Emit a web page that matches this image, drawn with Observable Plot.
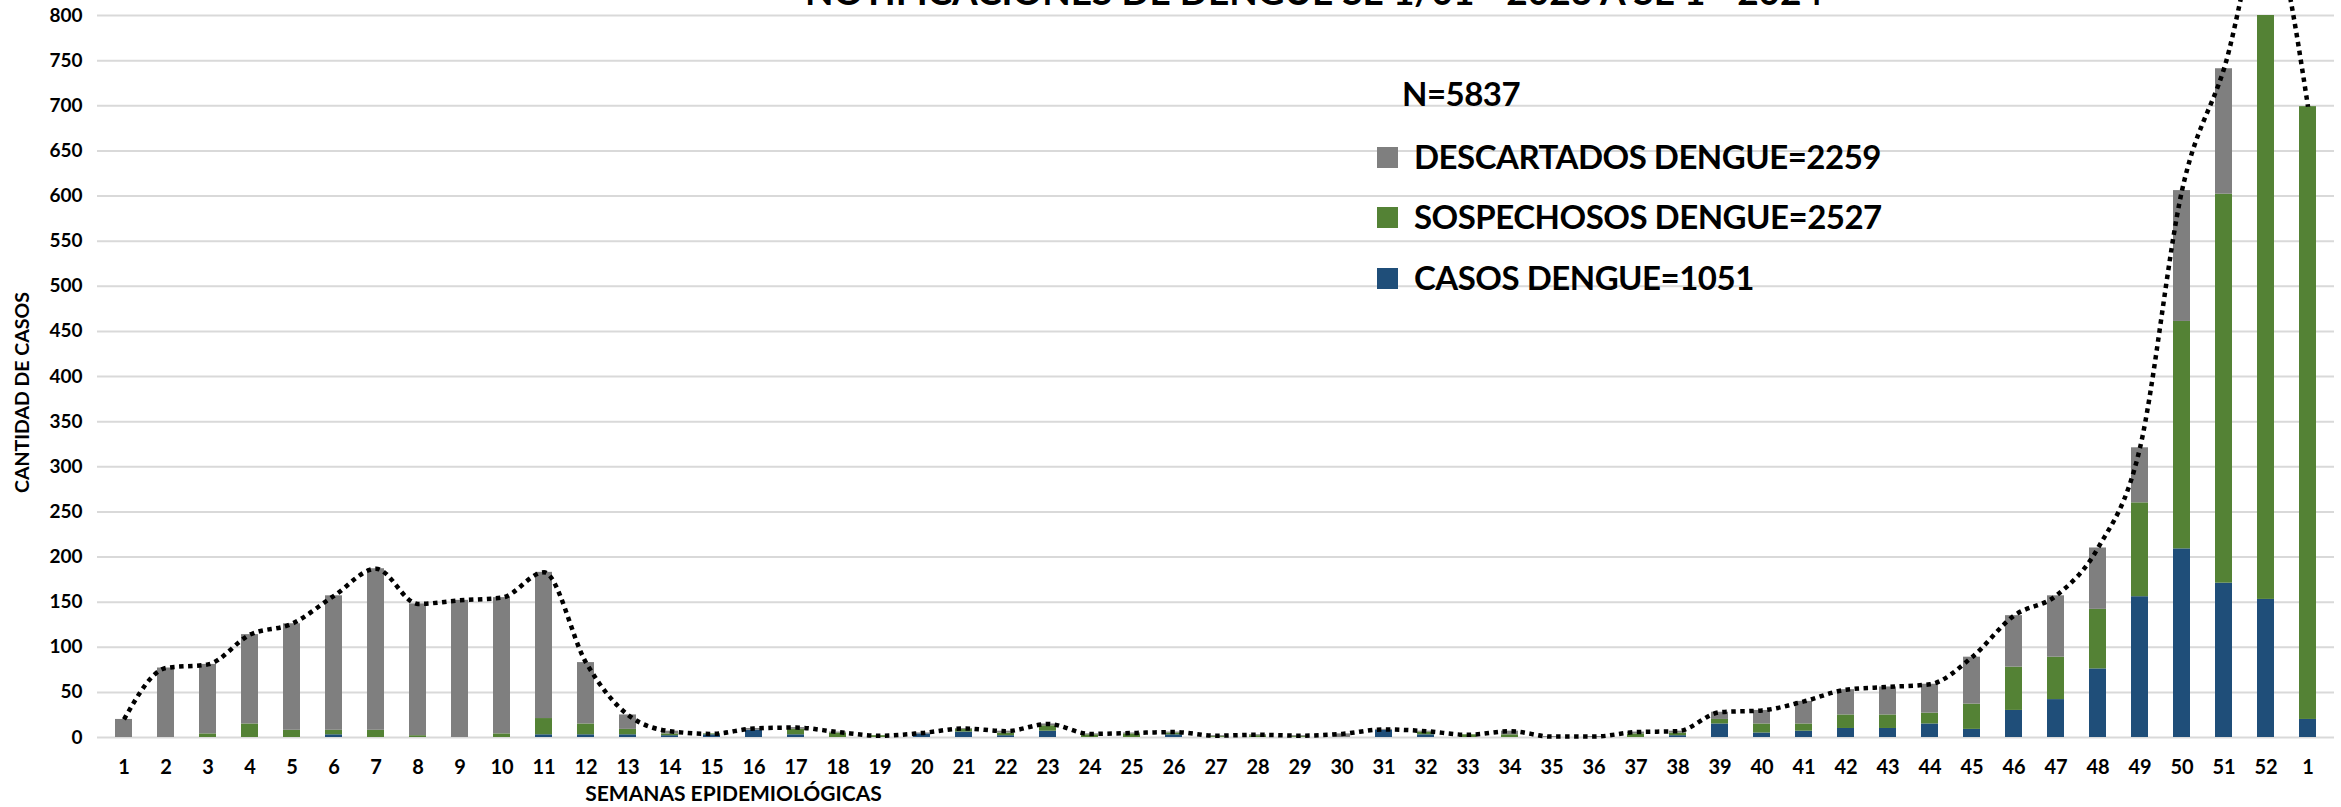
<!DOCTYPE html>
<html><head><meta charset="utf-8">
<script src="https://cdn.jsdelivr.net/npm/d3@7"></script>
<script src="https://cdn.jsdelivr.net/npm/@observablehq/plot@0.6"></script>
<style>
html,body{margin:0;padding:0;background:#fff;}
#wrap{position:relative;width:2341px;height:807px;overflow:hidden;background:#fff;}
.leg{position:absolute;font-family:Lato,"Open Sans",sans-serif;font-weight:700;font-size:33px;letter-spacing:-0.5px;color:#000;white-space:nowrap;line-height:1;}
.sw{position:absolute;width:21px;height:21px;}
</style></head><body><div id="wrap"></div>
<script>
const semanas = ["1","2","3","4","5","6","7","8","9","10","11","12","13","14","15","16","17","18","19","20","21","22","23","24","25","26","27","28","29","30","31","32","33","34","35","36","37","38","39","40","41","42","43","44","45","46","47","48","49","50","51","52","1"];
const casos =        [0,0,0,0,0,3,0,0,0,0,3,3,3,2,3,8,3,0,0,4,6,2,7,0,0,3,0,0,0,0,8,3,0,0,0,0,0,2,15,5,7,10,10,15,9,30,42,76,156,209,171,153,20];
const sospechosos =  [0,0,4,15,8,5,8,2,0,4,18,12,6,2,1,0,6,5,2,0,3,3,6,3,4,2,1,2,1,0,0,3,3,3,0,0,4,3,5,10,8,15,15,12,28,48,47,66,104,252,431,668,679];
const descartados =  [20,77,77,99,118,149,179,146,152,151,162,68,16,3,0,2,2,1,0,1,1,2,2,1,1,1,1,1,1,4,1,1,0,4,1,1,2,2,8,15,25,28,31,32,52,57,68,68,61,145,139,80,0];
const series = ["CASOS DENGUE","SOSPECHOSOS DENGUE","DESCARTADOS DENGUE"];
const colores = ["#1F4E79","#548235","#7F7F7F"];
const totalesLeyenda = [1051, 2527, 2259];
const totalN = 5837;
const yTicks = d3.range(0, 801, 50);
const titulo = "NOTIFICACIONES DE DENGUE SE 1/01 - 2023 A SE 1 - 2024";
const tituloY = "CANTIDAD DE CASOS";
const tituloX = "SEMANAS EPIDEMIOLÓGICAS";

const valores = [casos, sospechosos, descartados];
const filas = [];
semanas.forEach((s, i) => {
  series.forEach((serie, k) => filas.push({i, serie, v: valores[k][i]}));
});
const totales = semanas.map((s, i) => casos[i] + sospechosos[i] + descartados[i]);

const chart = Plot.plot({
  width: 2341, height: 807,
  marginTop: 15, marginBottom: 70, marginLeft: 97, marginRight: 7,
  style: {fontFamily: "Lato, 'Open Sans', sans-serif", fontWeight: 700, fontSize: "19px", color: "#000", background: "#fff"},
  x: {type: "band", domain: d3.range(semanas.length), paddingInner: 0.6, paddingOuter: 0.3},
  y: {domain: [0, 800]},
  color: {domain: series, range: colores},
  marks: [
    Plot.gridY(yTicks, {stroke: "#D9D9D9", strokeOpacity: 1, strokeWidth: 2}),
    Plot.barY(filas, {x: "i", y: "v", fill: "serie", clip: true}),
    Plot.line(totales, {x: (d, i) => i, y: d => d, curve: "monotone-x", stroke: "#000", strokeWidth: 4.5, strokeDasharray: "4.5,4.5", strokeLinecap: "butt"}),
    Plot.axisY(yTicks, {tickSize: 0, tickPadding: 15, label: null, fontSize: 19, fontWeight: 700}),
    Plot.axisX({tickSize: 0, tickPadding: 22, tickFormat: i => semanas[i], label: null, fontSize: 20, fontWeight: 700}),
    Plot.text([tituloY], {text: d => d, frameAnchor: "left", textAnchor: "middle", dx: -75, dy: 16, rotate: -90, fontSize: 19.5, fontWeight: 700}),
    Plot.text([tituloX], {text: d => d, frameAnchor: "bottom-left", textAnchor: "middle", dx: 636, dy: 63, fontSize: 21, fontWeight: 700}),
    Plot.text([titulo], {text: d => d, frameAnchor: "top", textAnchor: "middle", dx: 98, dy: -11, lineAnchor: "bottom", fontSize: 37, fontWeight: 700})
  ]
});
const wrap = document.getElementById("wrap");
wrap.appendChild(chart);

// legend overlay
const fs = 33, capOff = 0.527 * fs;
function addText(txt, left, capCenter) {
  const d = document.createElement("div");
  d.className = "leg"; d.textContent = txt;
  d.style.left = left + "px"; d.style.top = (capCenter - capOff) + "px";
  wrap.appendChild(d);
}
addText("N=" + totalN, 1402, 94);
const rowsOrder = [2, 1, 0];
const centers = [157, 217, 278];
rowsOrder.forEach((k, r) => {
  const sw = document.createElement("div");
  sw.className = "sw"; sw.style.background = colores[k];
  sw.style.left = "1377px"; sw.style.top = (centers[r] - 10.5) + "px";
  wrap.appendChild(sw);
  addText(series[k] + "=" + totalesLeyenda[k], 1414, centers[r]);
});
</script></body></html>
